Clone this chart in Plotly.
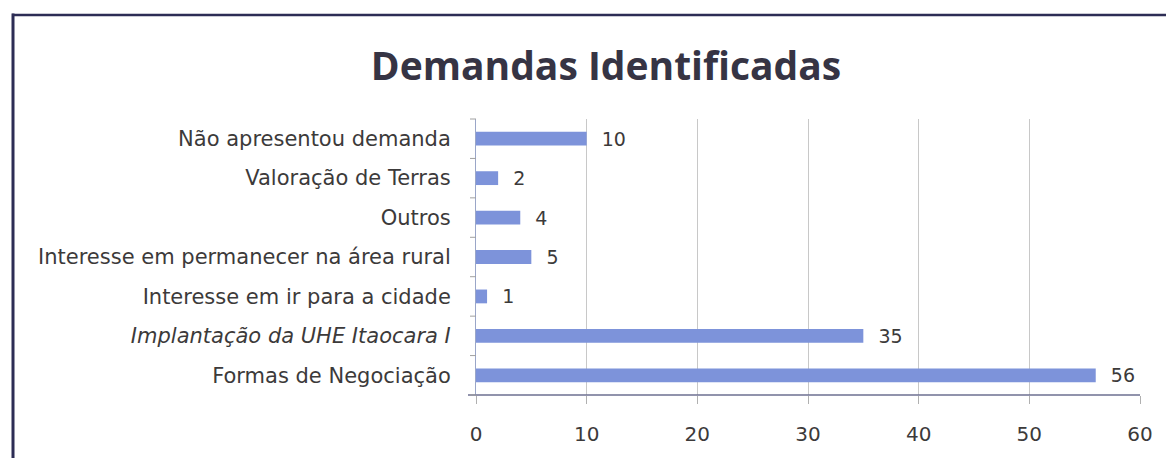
import plotly.graph_objects as go

categories = [
    "Formas de Negociação",
    "Implantação da UHE Itaocara I",
    "Interesse em ir para a cidade",
    "Interesse em permanecer na área rural",
    "Outros",
    "Valoração de Terras",
    "Não apresentou demanda",
]
values = [56, 35, 1, 5, 4, 2, 10]
tick_labels = [
    "Formas de Negociação",
    "<i>Implantação da UHE Itaocara I</i>",
    "Interesse em ir para a cidade",
    "Interesse em permanecer na área rural",
    "Outros",
    "Valoração de Terras",
    "Não apresentou demanda",
]
x_ticks = [0, 10, 20, 30, 40, 50, 60]

FONT = "DejaVu Sans"
TITLE_FONT = "Open Sans"
TXT = "#3c3a3a"

# the page body adds an 8px margin; size the figure so it fills the window
OFF = 8
W, H = 1174 - OFF, 458 - OFF
L, T = 476 - OFF, 119 - OFF
R = W - (1140 - OFF)
B = H - (399 - OFF)
pw, ph = W - L - R, H - T - B


def px(xpage):
    return (xpage - OFF - L) / pw


def py(ypage):
    return (H - B - (ypage - OFF)) / ph


fig = go.Figure()
fig.add_trace(go.Bar(
    y=categories,
    x=values,
    orientation="h",
    marker=dict(color="#7d93da", line=dict(width=0)),
    text=values,
    texttemplate="  %{x}",
    textposition="outside",
    constraintext="none",
    textfont=dict(family=FONT, size=19, color=TXT),
    cliponaxis=False,
))

fig.update_layout(
    width=W, height=H,
    margin=dict(l=L, r=R, t=T, b=B, pad=0),
    paper_bgcolor="white",
    plot_bgcolor="white",
    bargap=0.65,
    showlegend=False,
    title=dict(
        text="<b>Demandas Identificadas</b>",
        x=(606 - OFF) / W, xanchor="center",
        y=1 - (66 - OFF) / H, yanchor="middle",
        font=dict(family=TITLE_FONT, size=39, color="#363444"),
    ),
    font=dict(family=FONT, size=21, color=TXT),
    xaxis=dict(
        range=[0, 60],
        tickvals=x_ticks,
        showgrid=True,
        gridcolor="#c8c8c8",
        gridwidth=1,
        zeroline=False,
        showline=False,
        ticks="outside",
        ticklen=8,
        tickcolor="#b0b0b0",
        tickfont=dict(family=FONT, size=20, color=TXT),
        ticklabelstandoff=13,
    ),
    yaxis=dict(
        categoryorder="array",
        categoryarray=categories,
        tickmode="array",
        tickvals=categories,
        ticktext=tick_labels,
        showgrid=False,
        zeroline=False,
        showline=True,
        linecolor="#9aa6c8",
        linewidth=1,
        ticks="",
        tickfont=dict(family=FONT, size=21, color=TXT),
        ticklabelstandoff=20,
    ),
    shapes=[
        # x axis baseline, extending slightly left
        dict(type="line", xref="paper", yref="paper",
             x0=px(468), x1=1, y0=0, y1=0,
             line=dict(color="#6c6f90", width=1.5)),
        # outer chart frame (left and top edges)
        dict(type="line", xref="paper", yref="paper",
             x0=px(13), x1=px(13), y0=py(12), y1=py(470),
             line=dict(color="#2d2d55", width=3)),
        dict(type="line", xref="paper", yref="paper",
             x0=px(12), x1=px(1190), y0=py(13.5), y1=py(13.5),
             line=dict(color="#2d2d55", width=2.5)),
    ],
)

# category boundary tick marks on the y axis
for i in range(len(categories) + 1):
    yb = i / len(categories)
    fig.add_shape(type="line", xref="paper", yref="paper",
                  x0=px(470), x1=0, y0=yb, y1=yb,
                  line=dict(color="#a0a0a0", width=1))

fig.write_html("out.html")
